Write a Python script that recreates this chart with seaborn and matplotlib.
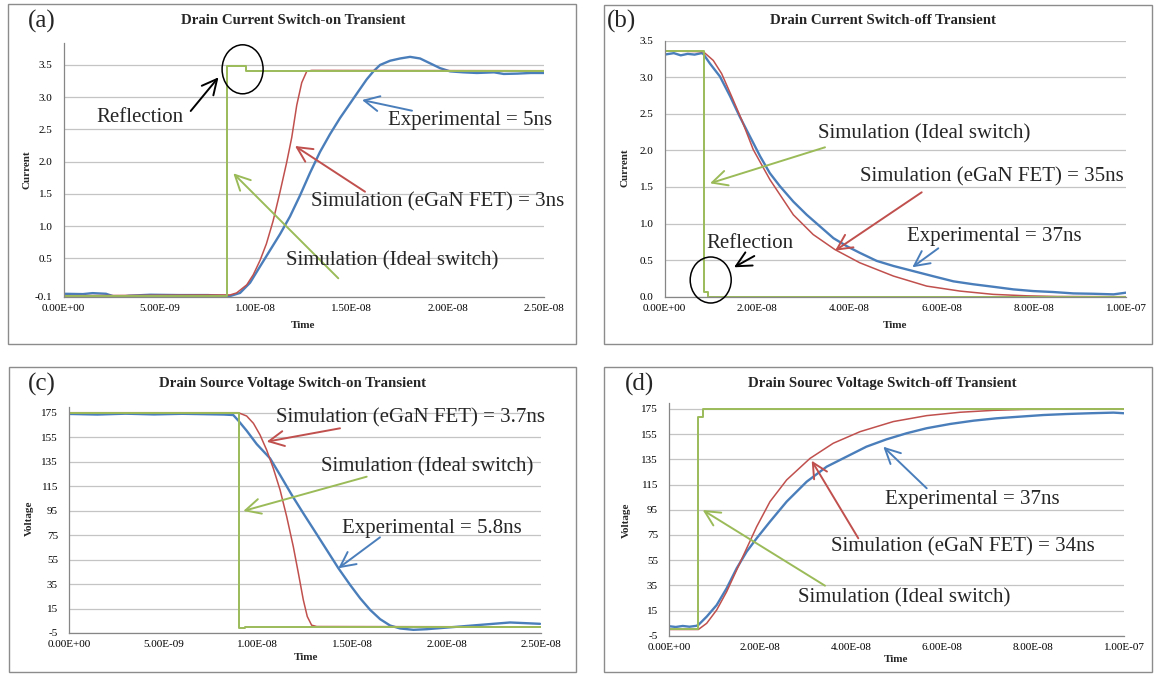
import numpy as np
import pandas as pd
import matplotlib
matplotlib.use("Agg")
import matplotlib.pyplot as plt
import seaborn as sns
from matplotlib.patches import Ellipse, Rectangle, FancyArrowPatch
from matplotlib.ticker import FuncFormatter

# ---------------- data (time in ns) ----------------
# (a) Drain current switch-on
a_exp_t = [0, 1.0, 1.5, 2.2, 2.6, 3.0, 3.4, 4.5, 6.0, 7.5, 8.3, 8.66, 9.18, 9.7, 10.22, 10.74, 11.26,
           11.78, 12.3, 12.82, 13.34, 13.86, 14.38, 14.9, 15.42, 15.77, 16.12, 16.47, 16.99, 17.51,
           18.03, 18.55, 19.07, 19.59, 20.11, 20.8, 21.5, 22.4, 22.9, 23.6, 24.3, 25.0]
a_exp_i = [-0.05, -0.055, -0.04, -0.05, -0.09, -0.095, -0.08, -0.065, -0.07, -0.07, -0.08, -0.085,
           -0.037, 0.121, 0.374, 0.625, 0.875, 1.15, 1.475, 1.825, 2.15, 2.425, 2.675, 2.9, 3.125,
           3.275, 3.4, 3.5, 3.565, 3.6, 3.625, 3.6, 3.525, 3.45, 3.4, 3.385, 3.375, 3.385, 3.36,
           3.365, 3.375, 3.375]
a_sim_t = [0, 8.66, 9.0, 9.53, 9.87, 10.22, 10.55, 10.9, 11.26, 11.6, 11.87, 12.13, 12.39, 12.65, 12.91, 25]
a_sim_i = [-0.08, -0.068, -0.037, 0.089, 0.247, 0.468, 0.725, 1.08, 1.53, 1.98, 2.375, 2.875, 3.225,
           3.4, 3.415, 3.41]
a_ideal_t = [0, 8.5, 8.5, 9.5, 9.5, 25]
a_ideal_i = [-0.08, -0.08, 3.49, 3.49, 3.41, 3.41]

# (b) Drain current switch-off
b_exp_t = [0, 2, 3.5, 5, 6.5, 8.0, 8.38, 9.8, 12.0, 14.2, 16.3, 18.5, 20.7, 22.8, 25.0, 27.9, 30.8,
           33.7, 36.6, 39.5, 42.3, 45.95, 49.6, 53.9, 58.2, 62.6, 66.9, 71.2, 75.6, 79.9, 84.2, 88.6,
           92.9, 97.3, 100]
b_exp_i = [3.31, 3.33, 3.30, 3.32, 3.31, 3.33, 3.32, 3.19, 3.01, 2.74, 2.46, 2.19, 1.92, 1.69, 1.51,
           1.3, 1.12, 0.96, 0.8, 0.69, 0.6, 0.49, 0.42, 0.35, 0.28, 0.21, 0.17, 0.136, 0.1, 0.077,
           0.064, 0.045, 0.04, 0.032, 0.055]
b_sim_t = [0, 8.38, 10.55, 12.36, 14.52, 16.69, 19.22, 22.83, 27.9, 32.2, 36.9, 42.3, 49.6, 56.8,
           64.0, 71.2, 78.5, 85.0, 100]
b_sim_i = [3.36, 3.35, 3.23, 3.05, 2.74, 2.42, 2.01, 1.6, 1.12, 0.85, 0.645, 0.464, 0.282, 0.145,
           0.077, 0.032, 0.012, 0.003, 0.0]
b_ideal_t = [0, 8.45, 8.45, 9.3, 9.3, 100]
b_ideal_i = [3.36, 3.36, 0.06, 0.06, 0.0, 0.0]

# (c) Drain-source voltage switch-on
c_exp_t = [0, 1.5, 3.0, 4.5, 6.0, 7.5, 8.2, 8.70, 8.97, 9.41, 9.94, 10.65, 11.18, 11.8, 12.41, 13.03,
           13.65, 14.27, 14.89, 15.42, 15.95, 16.48, 17.01, 17.54, 18.24, 18.94, 19.83, 20.71, 21.59,
           22.47, 23.36, 24.24, 24.95]
c_exp_v = [174.0, 173.5, 174.2, 173.6, 174.1, 173.7, 173.5, 173.1, 168.5, 160.3, 149.4, 137.7, 124.1,
           107.8, 92.8, 77.9, 62.9, 47.9, 34.3, 23.4, 13.9, 6.3, 1.1, -1.3, -2.4, -1.9, -0.8, 0.3, 1.4,
           2.5, 3.6, 3.0, 2.5]
c_sim_t = [0, 8.97, 9.41, 9.77, 10.12, 10.47, 10.82, 11.18, 11.53, 11.88, 12.15, 12.41, 12.62, 12.85, 13.12, 25]
c_sim_v = [175, 175, 172.3, 166.3, 156.8, 144.5, 129.6, 111.9, 90.1, 65.6, 43.8, 22.1, 8.5, 1.4, 0.3, 0.0]
c_ideal_t = [0, 9.0, 9.0, 9.3, 9.3, 25]
c_ideal_v = [175, 175, -1, -1, 0, 0]

# (d) Drain-source voltage switch-off
d_exp_t = [0, 1.5, 3.0, 4.5, 6.0, 6.45, 8.28, 10.48, 12.67, 14.87, 17.07, 19.27, 22.2, 25.86, 30.26,
           34.65, 39.05, 43.4, 47.8, 52.2, 56.6, 61.8, 66.9, 72.0, 77.1, 82.3, 87.4, 92.5, 97.7, 100]
d_exp_v = [2.6, 2.0, 2.8, 2.2, 2.9, 3.6, 10.2, 19.4, 32.7, 48.5, 61.8, 72.4, 85.6, 101.5, 117.3,
           129.2, 137.2, 145.1, 150.9, 155.7, 159.7, 163.1, 165.7, 167.6, 168.9, 170.2, 171.0, 171.6,
           172.1, 171.6]
d_sim_t = [0, 6.45, 8.28, 10.48, 12.67, 14.87, 17.07, 19.27, 22.2, 25.86, 31.0, 36.1, 42.0, 49.3,
           56.6, 64.0, 71.3, 78.6, 100]
d_sim_v = [0, 0, 4.9, 15.5, 30.0, 47.2, 64.4, 81.6, 101.5, 118.7, 135.8, 147.8, 157.0, 165.0, 169.7,
           172.4, 173.9, 174.7, 175]
d_ideal_t = [0, 6.45, 6.45, 7.4, 7.4, 100]
d_ideal_v = [0, 0, 168.4, 168.4, 175, 175]

current_ticks_a = [-0.1, 0.5, 1.0, 1.5, 2.0, 2.5, 3.0, 3.5]
current_ticks_b = [0.0, 0.5, 1.0, 1.5, 2.0, 2.5, 3.0, 3.5]
voltage_ticks = [-5, 15, 35, 55, 75, 95, 115, 135, 155, 175]
time_ticks_short = [0, 5e-9, 1e-8, 1.5e-8, 2e-8, 2.5e-8]
time_ticks_long = [0, 2e-8, 4e-8, 6e-8, 8e-8, 1e-7]

# ---------------- style ----------------
sns.set_style("white")
plt.rcParams["font.family"] = ["Liberation Serif", "DejaVu Serif"]

W, H = 1157, 674
fig = plt.figure(figsize=(W / 100, H / 100), dpi=100)
BLUE, RED, GREEN = "#4a7ebb", "#c0504d", "#9bbb59"


def P(x, y):
    return (x / W, 1 - y / H)


def make_axes(x0, x1, ytop, ybot):
    return fig.add_axes([x0 / W, 1 - ybot / H, (x1 - x0) / W, (ybot - ytop) / H])


def draw_series(ax, t, v, color, lw):
    df = pd.DataFrame({"t": np.array(t) * 1e-9, "v": v})
    sns.lineplot(data=df, x="t", y="v", ax=ax, color=color, lw=lw,
                 estimator=None, sort=False, legend=False)


def style_axes(ax, xlim, xticks, ylim, yticks, yfmt):
    ax.set_xlim(*xlim)
    ax.set_ylim(*ylim)
    ax.set_xticks(xticks)
    ax.set_yticks(yticks)
    ax.xaxis.set_major_formatter(FuncFormatter(lambda v, p: f"{v:.2E}"))
    ax.yaxis.set_major_formatter(FuncFormatter(yfmt))
    ax.set_xlabel("")
    ax.set_ylabel("")
    ax.grid(False)
    ax.yaxis.grid(True, color="#c4c4c4", lw=0.9)
    ax.set_axisbelow(True)
    for s in ["top", "right"]:
        ax.spines[s].set_visible(False)
    for s in ["left", "bottom"]:
        ax.spines[s].set_color("#868686")
        ax.spines[s].set_linewidth(0.9)
    ax.tick_params(axis="both", length=0, labelsize=8, colors="black")
    ax.tick_params(axis="y", pad=8)
    ax.tick_params(axis="x", pad=5)


def arrow(tail, head, color):
    fig.add_artist(FancyArrowPatch(P(*tail), P(*head), transform=fig.transFigure,
                                   arrowstyle="->,head_length=0.9,head_width=0.45",
                                   mutation_scale=12, color=color, lw=1.4,
                                   shrinkA=0, shrinkB=0))


def label(x, y, s, size=15):
    fig.text(*P(x, y), s, ha="center", va="center", fontsize=size)


def ellipse(cx, cy, w, h):
    fig.add_artist(Ellipse(P(cx, cy), w / W, h / H, transform=fig.transFigure,
                           fill=False, edgecolor="black", lw=1.1))


def box(x0, y0, x1, y1):
    fig.add_artist(Rectangle(P(x0, y1), (x1 - x0) / W, (y1 - y0) / H, transform=fig.transFigure,
                             fill=False, edgecolor="#8c8c8c", lw=1.0))


f1 = lambda v, p: f"{v:.1f}"
f0 = lambda v, p: f"{v:.0f}"
TS = 10.7

# ---------------- (a) ----------------
box(8, 4, 576, 344)
ax = make_axes(63.7, 544, 43, 297)
draw_series(ax, a_exp_t, a_exp_i, BLUE, 1.7)
draw_series(ax, a_sim_t, a_sim_i, RED, 1.1)
draw_series(ax, a_ideal_t, a_ideal_i, GREEN, 1.4)
style_axes(ax, (0, 2.5e-8), time_ticks_short, (-0.1, 3.84), current_ticks_a, f1)
fig.text(*P(42, 21), "(a)", fontsize=18, ha="center", va="center")
fig.text(*P(293, 21), "Drain Current Switch-on Transient", fontsize=TS, weight="bold", ha="center", va="center")
fig.text(*P(303, 326), "Time", fontsize=8, weight="bold", ha="center", va="center")
fig.text(*P(27, 170), "Current", fontsize=8, weight="bold", ha="center", va="center", rotation=90)
ellipse(242.6, 69.3, 41, 49)
label(140, 117, "Reflection")
arrow((190.7, 111), (218.5, 77.3), "black")
label(470, 121, "Experimental = 5ns")
arrow((412, 110.7), (362, 100), BLUE)
label(438, 202, "Simulation (eGaN FET) = 3ns")
arrow((365, 191.7), (295, 146), RED)
label(392, 261, "Simulation (Ideal switch)")
arrow((338.3, 278.3), (233.3, 173.3), GREEN)

# ---------------- (b) ----------------
box(604, 5, 1152, 344)
ax = make_axes(664.6, 1126, 40.7, 296.7)
draw_series(ax, b_exp_t, b_exp_i, BLUE, 1.7)
draw_series(ax, b_sim_t, b_sim_i, RED, 1.1)
draw_series(ax, b_ideal_t, b_ideal_i, GREEN, 1.4)
style_axes(ax, (0, 1e-7), time_ticks_long, (0, 3.5), current_ticks_b, f1)
fig.text(*P(622, 21), "(b)", fontsize=18, ha="center", va="center")
fig.text(*P(883, 20), "Drain Current Switch-off Transient", fontsize=TS, weight="bold", ha="center", va="center")
fig.text(*P(895, 326), "Time", fontsize=8, weight="bold", ha="center", va="center")
fig.text(*P(625, 168), "Current", fontsize=8, weight="bold", ha="center", va="center", rotation=90)
label(924, 134, "Simulation (Ideal switch)")
arrow((825, 147.3), (710, 183.3), GREEN)
label(992, 177, "Simulation (eGaN FET) = 35ns")
arrow((921.7, 192.3), (835, 250.7), RED)
label(994, 237, "Experimental = 37ns")
arrow((938.3, 248.3), (912.3, 267.3), BLUE)
label(750, 243.5, "Reflection")
arrow((754.3, 256), (734, 267.3), "black")
ellipse(710.7, 280, 41, 46)

# ---------------- (c) ----------------
box(9, 367, 576, 672)
ax = make_axes(69, 541, 407.2, 633)
draw_series(ax, c_exp_t, c_exp_v, BLUE, 1.7)
draw_series(ax, c_sim_t, c_sim_v, RED, 1.1)
draw_series(ax, c_ideal_t, c_ideal_v, GREEN, 1.4)
style_axes(ax, (0, 2.5e-8), time_ticks_short, (-5, 179.5), voltage_ticks, f0)
fig.text(*P(42, 384), "(c)", fontsize=18, ha="center", va="center")
fig.text(*P(293, 384), "Drain Source Voltage Switch-on Transient", fontsize=TS, weight="bold", ha="center", va="center")
fig.text(*P(306, 658), "Time", fontsize=8, weight="bold", ha="center", va="center")
fig.text(*P(29.6, 518), "Voltage", fontsize=8, weight="bold", ha="center", va="center", rotation=90)
label(410, 418, "Simulation (eGaN FET) = 3.7ns")
arrow((340, 428.3), (266.7, 441.7), RED)
label(427.5, 467, "Simulation (Ideal switch)")
arrow((366.7, 476.7), (243.3, 511), GREEN)
label(432, 528.5, "Experimental = 5.8ns")
arrow((380, 537.3), (338.3, 568.3), BLUE)

# ---------------- (d) ----------------
box(604, 367, 1152, 672)
ax = make_axes(669, 1124, 403.3, 635.8)
draw_series(ax, d_exp_t, d_exp_v, BLUE, 1.7)
draw_series(ax, d_sim_t, d_sim_v, RED, 1.1)
draw_series(ax, d_ideal_t, d_ideal_v, GREEN, 1.4)
style_axes(ax, (0, 1e-7), time_ticks_long, (-5, 179.5), voltage_ticks, f0)
fig.text(*P(639, 384), "(d)", fontsize=18, ha="center", va="center")
fig.text(*P(882.5, 383), "Drain Sourec Voltage Switch-off Transient", fontsize=TS, weight="bold", ha="center", va="center")
fig.text(*P(896.5, 659), "Time", fontsize=8, weight="bold", ha="center", va="center")
fig.text(*P(626, 520), "Voltage", fontsize=8, weight="bold", ha="center", va="center", rotation=90)
label(972.5, 499.5, "Experimental = 37ns")
arrow((926.7, 488.3), (883.3, 446.7), BLUE)
label(963, 547, "Simulation (eGaN FET) = 34ns")
arrow((858.3, 538.3), (811.7, 460.7), RED)
label(904, 597.5, "Simulation (Ideal switch)")
arrow((825, 585.7), (702.7, 510), GREEN)

fig.savefig("out.png", dpi=100)
